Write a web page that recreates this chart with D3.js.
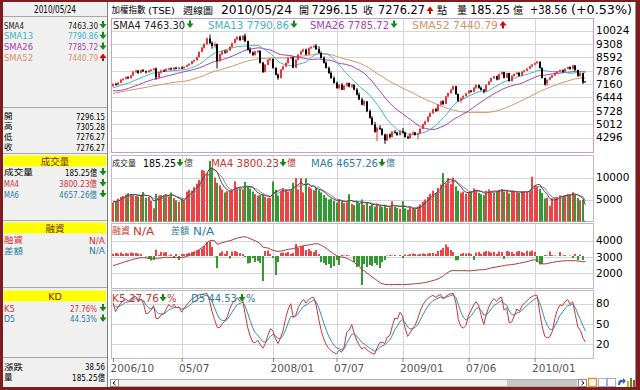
<!DOCTYPE html>
<html lang="zh-Hant">
<head>
<meta charset="UTF-8">
<title>加權指數(TSE) 週線圖</title>
<style>
    body { margin: 0; padding: 0; background: #fff; }
    svg { display: block; }
    text { font-family: "DejaVu Sans", "Noto Sans CJK TC", sans-serif; }
</style>
</head>
<body>
<div id="chart"></div>
<script src="https://d3js.org/d3.v7.min.js"></script>
<script>
// weekly bars, 2006/10/30 .. 2010/05/24
const opens = [
    7040,7150,7110,7230,7390,7440,7520,7470,7610,7823,
    7880,7760,7900,7840,7790,7880,7910,7980,7520,7780,
    7880,7840,7960,7990,7940,8030,7980,8040,8010,8080,
    8170,8240,8380,8440,8600,8880,9100,9300,9600,9350,
    9200,9300,8400,8760,8900,8850,8960,9150,9350,9560,
    9680,9520,9740,9450,9000,8850,8720,8900,8930,8300,
    7800,8190,8460,8500,8020,7660,7480,7930,8100,8280,
    8550,8590,8040,8460,8730,8910,9000,8740,9090,9150,
    9200,9030,8820,8560,8290,8020,7750,7480,7220,6950,
    7120,6860,7060,7200,7030,7100,6860,6590,6330,6060,
    6230,5700,5350,4990,4600,4820,4750,4450,4150,4460,
    4330,4600,4560,4430,4640,4560,4330,4260,4500,4560,
    4450,4520,4760,5000,5150,5400,5600,5800,5720,6050,
    6230,6100,6500,6680,6860,7040,6620,6260,6390,6520,
    6660,6800,6740,6960,7100,6960,6850,6770,7120,7300,
    7480,7570,7400,7700,7790,7500,7740,7320,7590,7700,
    7760,7600,7810,7880,7980,8110,8200,8280,8350,8020,
    7480,7200,7390,7520,7620,7750,7830,7900,7820,7980,
    8060,7980,8150,7900,7600,7740,7296.15
];
const highs = [
    7200,7230,7260,7420,7480,7560,7580,7640,7850,7920,
    7900,7930,7960,7880,7920,7960,8010,8050,7820,7930,
    7950,8000,8040,8050,8060,8080,8060,8110,8100,8200,
    8270,8400,8480,8620,8900,9150,9350,9650,9807,9450,
    9380,9320,8800,8950,8990,9000,9180,9380,9600,9720,
    9760,9780,9859,9480,9120,8900,8950,8980,8960,8350,
    8230,8480,8550,8530,8060,7720,7960,8150,8320,8580,
    8640,8620,8480,8760,8950,9050,9060,9120,9180,9250,
    9309,9180,8900,8640,8380,8100,7840,7570,7300,7160,
    7220,7100,7250,7240,7180,7150,6950,6700,6420,6300,
    6250,5800,5450,5130,4880,4960,4800,4500,4500,4520,
    4650,4700,4600,4700,4810,4620,4400,4550,4620,4600,
    4560,4800,5040,5200,5450,5650,5850,5880,6080,6260,
    6300,6520,6700,6880,7084,7060,6650,6420,6560,6700,
    6850,6850,7000,7150,7130,7030,6900,7150,7320,7500,
    7600,7620,7720,7830,7810,7760,7760,7620,7720,7800,
    7790,7850,7920,8020,8140,8230,8300,8395,8380,8060,
    7500,7420,7540,7650,7780,7860,7940,7940,8000,8090,
    8100,8190,8180,7920,7800,7760,7305.28
];
const lows = [
    7020,7080,7090,7200,7330,7400,7420,7450,7600,7740,
    7700,7730,7800,7720,7760,7840,7880,7390,7450,7720,
    7820,7810,7900,7900,7920,7940,7950,7960,7970,8060,
    8120,8200,8300,8400,8580,8850,9050,9250,9300,9050,
    9100,7987,8350,8700,8780,8800,8920,9100,9330,9500,
    9450,9500,9400,8950,8780,8650,8680,8800,8250,7750,
    7780,8150,8380,7980,7620,7384,7450,7900,8050,8240,
    8480,8000,8000,8420,8700,8850,8700,8720,9020,9080,
    8980,8800,8520,8250,7990,7700,7440,7180,6900,6850,
    6830,6820,7020,6980,6950,6820,6550,6300,6020,5980,
    5650,5300,4950,4550,4110,4700,4400,3955,4100,4250,
    4300,4500,4380,4400,4500,4280,4220,4240,4420,4400,
    4200,4500,4740,4950,5100,5380,5550,5650,5700,6000,
    6020,6080,6450,6620,6820,6580,6200,6150,6340,6480,
    6620,6700,6720,6900,6900,6800,6650,6740,7080,7260,
    7420,7350,7380,7650,7450,7470,7280,7300,7550,7650,
    7560,7570,7760,7840,7940,8050,8150,8220,7980,7450,
    7080,7060,7350,7480,7590,7700,7790,7760,7790,7940,
    7920,7950,7870,7540,7550,7160,7276.27
];
const closes = [
    7150,7110,7230,7390,7440,7520,7470,7610,7823,7880,
    7760,7900,7840,7790,7880,7910,7980,7520,7780,7880,
    7840,7960,7990,7940,8030,7980,8040,8010,8080,8170,
    8240,8380,8440,8600,8880,9100,9300,9600,9350,9200,
    9300,8400,8760,8900,8850,8960,9150,9350,9560,9680,
    9520,9740,9450,9000,8850,8720,8900,8930,8300,7800,
    8190,8460,8500,8020,7660,7480,7930,8100,8280,8550,
    8590,8040,8460,8730,8910,9000,8740,9090,9150,9200,
    9030,8820,8560,8290,8020,7750,7480,7220,6950,7120,
    6860,7060,7200,7030,7100,6860,6590,6330,6060,6230,
    5700,5350,4990,4600,4820,4750,4450,4150,4460,4330,
    4600,4560,4430,4640,4560,4330,4260,4500,4560,4450,
    4520,4760,5000,5150,5400,5600,5800,5720,6050,6230,
    6100,6500,6680,6860,7040,6620,6260,6390,6520,6660,
    6800,6740,6960,7100,6960,6850,6770,7120,7300,7480,
    7570,7400,7700,7790,7500,7740,7320,7590,7700,7760,
    7600,7810,7880,7980,8110,8200,8280,8350,8020,7480,
    7130,7390,7520,7620,7750,7830,7900,7820,7980,8060,
    7980,8150,7900,7600,7740,7237.71,7276.27
];
// 51 weekly closes before the first bar, needed for the moving averages
const priorCloses = [
    5850,5900,6000,6100,6200,6300,6400,6450,6550,6500,
    6600,6650,6550,6500,6450,6500,6550,6600,6550,6600,
    6650,6700,6900,7000,7100,7150,7300,7200,6900,6700,
    6600,6400,6350,6500,6700,6600,6300,6400,6550,6650,
    6700,6800,6850,6900,7000,7050,7000,7050,7100,7150,7050
];
// weekly turnover, 億
const volumes = [
    4300,4600,5200,5600,5800,6100,6400,6200,6000,5800,
    5700,5900,6700,5400,5600,4700,3000,6300,5900,6000,
    5800,6200,5700,6600,5300,4800,4500,5200,4800,6800,
    7200,7000,7800,8600,9400,11700,11500,11000,13800,12300,
    10000,8800,8200,7300,6600,6900,7000,7100,9100,7600,
    7400,7300,9000,8000,7500,6800,6200,5900,6000,6100,
    5600,5300,5400,9100,7200,5900,7000,7600,7300,6800,
    7200,8800,9900,7300,9800,6600,9800,7900,7500,7100,
    7600,7100,6600,6000,5400,5000,5200,4700,4300,5100,
    4600,4200,4400,6200,4000,3700,4600,4100,5000,3800,
    4400,3600,3900,3400,4100,3500,3300,3800,3100,3200,
    4600,3300,3100,2900,4600,3000,2700,3200,2900,2800,
    3400,3900,4500,5000,5600,6300,7000,6500,7600,8400,
    11000,8700,9900,8500,10000,8000,7000,6500,6800,6300,
    6600,6900,7500,7200,6500,6200,6000,7000,7300,6800,
    6600,6900,7200,7400,6800,7000,6400,7000,6800,6600,
    6500,6800,6900,6700,7000,10200,8200,8000,7400,6500,
    5200,5400,3600,5300,5500,5600,5900,5800,6000,6200,
    6100,6650,6100,5300,4800,4900,185.25
];
const priorVolumes = [4300, 4600, 4200, 4800, 4500];
// 融資餘額 (line) and weekly 差額 (bars), 億
const marginBalance = [
    2450,2500,2550,2600,2650,2700,2750,2800,2850,2880,
    2910,2940,2940,2930,2900,2880,2870,2920,2910,2930,
    2950,2970,2960,2960,2950,2960,2940,2960,2980,3020,
    3080,3150,3230,3350,3450,3560,3700,3850,3980,4010,
    3980,3780,3800,3870,3900,3960,3980,4040,4100,4150,
    4190,4220,4230,4180,4110,4050,3980,3900,3800,3600,
    3560,3540,3460,3400,3350,3330,3350,3380,3420,3460,
    3480,3500,3560,3600,3640,3680,3700,3720,3750,3780,
    3800,3790,3700,3620,3520,3400,3280,3160,3080,3000,
    2980,2970,2900,2830,2750,2650,2520,2400,2200,2120,
    2000,1880,1760,1650,1540,1420,1350,1300,1290,1280,
    1290,1300,1290,1290,1280,1290,1300,1310,1330,1340,
    1350,1370,1390,1420,1450,1490,1540,1580,1640,1720,
    1820,1950,2050,2120,2160,2150,2140,2140,2150,2140,
    2130,2140,2150,2170,2190,2200,2200,2230,2270,2320,
    2350,2370,2400,2430,2450,2490,2500,2520,2540,2570,
    2600,2630,2660,2700,2740,2790,2820,2750,2620,2560,
    2560,2580,2620,2650,2680,2700,2730,2740,2750,2760,
    2760,2750,2760,2740,2720,2700,2690
];
const marginDiff = [
    20,30,25,35,20,30,25,35,30,30,
    25,20,0,-5,-30,-45,-40,63,10,40,
    35,40,5,15,-10,20,-40,20,20,25,
    30,40,45,55,60,75,100,140,145,90,
    -5,-120,30,45,20,50,-25,45,50,40,
    30,20,-10,-75,-70,-20,-60,-50,-70,-250,
    50,55,20,-20,-190,-60,30,35,30,40,
    20,30,120,80,90,100,60,70,50,40,
    60,20,-60,-70,-90,-80,-120,-100,-40,-90,
    10,5,10,5,0,-60,-110,-100,-290,-80,
    -110,-90,-100,-70,-90,-120,-60,-40,5,10,
    5,10,0,10,-20,15,10,20,25,20,
    15,20,25,20,25,30,30,20,50,60,
    80,115,90,60,40,-45,-40,20,30,25,
    30,20,-40,35,40,20,40,50,45,35,
    40,20,45,40,-30,50,45,40,20,45,
    50,40,30,50,45,55,40,-60,-85,-80,
    10,5,45,10,5,0,40,5,10,0,
    5,-20,20,-40,15,-40,0
];
const kdStart = [81, 79];

const tickIndex = [0, 27, 63, 88, 114, 140, 166];
const tickLabels = ["2006/10", "05/07", "2008/01", "07/07", "2009/01", "07/06", "2010/01"];
const priceTicks = [10024, 9308, 8592, 7876, 7160, 6444, 5728, 5012, 4296];
const volumeTicks = [10000, 5000];
const marginTicks = [4000, 3000, 2000];
const kdTicks = [80, 50, 20];

const smaNames = ["SMA4", "SMA13", "SMA26", "SMA52"];
const smaValues = ["7463.30", "7790.86", "7785.72", "7440.79"];
const smaUp = [false, false, false, true];
const quoteNames = ["開", "高", "低", "收"];
const quoteValues = ["7296.15", "7305.28", "7276.27", "7276.27"];

// ---------------------------------------------------------------
const CJK = "'Noto Sans CJK TC', sans-serif";
const SERIF = "'Liberation Serif', 'Noto Sans CJK TC', serif";
const C = {
    frame: "#7d1d1d", panelBg: "#f0f0f0", grid: "#d6d6d6", border: "#bdbdbd", pricePanel: "#c99ad6",
    up: "#e83434", down: "#000", volUp: "#ec4444", volDown: "#339933",
    sma4: "#222", sma13: "#3fb6c4", sma26: "#a83fae", sma52: "#d39464",
    red: "#cc3333", blue: "#2c7d9e", yellow: "#ffff00", head: "#7a2a00"
};

const svg = d3.select("#chart").append("svg").attr("width", 640).attr("height", 390);

function txt(g, x, y, s, o = {}) {
    const t = g.append("text").attr("x", x).attr("y", y)
        .attr("dominant-baseline", "central")
        .attr("font-size", o.size || 11)
        .attr("fill", o.color || "#000")
        .text(s);
    if (o.anchor) t.attr("text-anchor", o.anchor);
    if (o.family) t.attr("font-family", o.family);
    if (o.width) t.attr("textLength", o.width).attr("lengthAdjust", "spacingAndGlyphs");
    return t;
}

function arrow(g, x, y, up) {
    const d = up
        ? `M${x - 1},${y + 4}v-3h-2.5l3.5,-4.5l3.5,4.5h-2.5v3z`
        : `M${x - 1},${y - 4}v3h-2.5l3.5,4.5l3.5,-4.5h-2.5v-3z`;
    g.append("path").attr("d", d).attr("fill", up ? "#e00000" : "#108a10");
}

// frame and backgrounds
svg.append("rect").attr("width", 640).attr("height", 390).attr("fill", C.frame);
svg.append("rect").attr("x", 3).attr("y", 2).attr("width", 105).attr("height", 385).attr("fill", C.panelBg);
svg.append("rect").attr("x", 108).attr("y", 2).attr("width", 528).attr("height", 385).attr("fill", "#fff");
svg.append("line").attr("x1", 107.5).attr("x2", 107.5).attr("y1", 2).attr("y2", 387).attr("stroke", "#808080");
svg.append("line").attr("x1", 635.5).attr("x2", 635.5).attr("y1", 2).attr("y2", 387).attr("stroke", "#909090");

// ---------------- left info panel ----------------
const lp = svg.append("g");
[16.5, 107.5, 153.5, 220.5, 287.5, 357.5].forEach(y => {
    lp.append("line").attr("x1", 3).attr("x2", 107).attr("y1", y).attr("y2", y).attr("stroke", "#a8a8a8");
});
txt(lp, 55, 9.5, "2010/05/24", { family: SERIF, size: 10, anchor: "middle", width: 42 });

const smaColors = [C.sma4, C.sma13, C.sma26, C.sma52];
smaNames.forEach((n, i) => {
    const y = 25 + i * 10.7;
    txt(lp, 4, y, n, { family: SERIF, size: 9.5, color: smaColors[i], width: i ? 29 : 20 });
    txt(lp, 98, y, smaValues[i], { family: SERIF, size: 9.5, color: smaColors[i], anchor: "end", width: 30 });
    arrow(lp, 103, y, smaUp[i]);
});
quoteNames.forEach((n, i) => {
    const y = 116 + i * 10.4;
    txt(lp, 4, y, n, { family: CJK, size: 8.5 });
    txt(lp, 105, y, quoteValues[i], { family: SERIF, size: 9.5, anchor: "end", width: 29 });
});

function yellowHead(y, label) {
    lp.append("rect").attr("x", 4).attr("y", y).attr("width", 102).attr("height", 11).attr("fill", C.yellow);
    txt(lp, 55, y + 5.5, label, { family: SERIF, size: 9.5, anchor: "middle", color: C.head });
}
yellowHead(155.5, "成交量");
txt(lp, 4, 172, "成交量", { family: CJK, size: 8.5, width: 29 });
txt(lp, 97, 172, "185.25億", { family: SERIF, size: 9.5, anchor: "end", width: 32 });
arrow(lp, 103, 172, false);
txt(lp, 4, 183, "MA4", { family: SERIF, size: 9.5, color: C.red, width: 15 });
txt(lp, 97, 183, "3800.23億", { family: SERIF, size: 9.5, anchor: "end", color: C.red, width: 38 });
arrow(lp, 103, 183, false);
txt(lp, 4, 194, "MA6", { family: SERIF, size: 9.5, color: C.blue, width: 15 });
txt(lp, 97, 194, "4657.26億", { family: SERIF, size: 9.5, anchor: "end", color: C.blue, width: 38 });
arrow(lp, 103, 194, false);

yellowHead(222.5, "融資");
txt(lp, 4, 240, "融資", { family: CJK, size: 8.5, color: C.red, width: 19 });
txt(lp, 105, 240, "N/A", { family: SERIF, size: 9.5, anchor: "end", color: C.red, width: 16 });
txt(lp, 4, 250.5, "差額", { family: CJK, size: 8.5, color: C.blue, width: 19 });
txt(lp, 105, 250.5, "N/A", { family: SERIF, size: 9.5, anchor: "end", color: C.blue, width: 16 });

yellowHead(290.5, "KD");
txt(lp, 4, 308, "K5", { family: SERIF, size: 9.5, color: C.red, width: 11 });
txt(lp, 97, 308, "27.76%", { family: SERIF, size: 9.5, anchor: "end", color: C.red, width: 27 });
arrow(lp, 103, 308, false);
txt(lp, 4, 318.5, "D5", { family: SERIF, size: 9.5, color: C.blue, width: 11 });
txt(lp, 97, 318.5, "44.53%", { family: SERIF, size: 9.5, anchor: "end", color: C.blue, width: 27 });
arrow(lp, 103, 318.5, false);

txt(lp, 4, 366.5, "漲跌", { family: CJK, size: 8.5, width: 19 });
txt(lp, 105, 366.5, "38.56", { family: SERIF, size: 9.5, anchor: "end", width: 20 });
txt(lp, 4, 377, "量", { family: CJK, size: 8.5 });
txt(lp, 105, 377, "185.25億", { family: SERIF, size: 9.5, anchor: "end", width: 33 });

// ---------------- title ----------------
txt(svg, 111.5, 10, "加權指數", { family: CJK, size: 8.6, width: 34 });
txt(svg, 148, 10.5, "(TSE)", { size: 8.5, width: 27 });
txt(svg, 183, 10, "週線圖", { family: CJK, size: 9.5, width: 30 });
txt(svg, 221, 10, "2010/05/24", { size: 12, width: 71 });
txt(svg, 299, 10, "開", { family: CJK, size: 10 });
txt(svg, 311.5, 10, "7296.15", { size: 12, width: 46.5 });
txt(svg, 363, 10, "收", { family: CJK, size: 10 });
txt(svg, 378, 10, "7276.27", { size: 12, width: 47 });
arrow(svg, 430, 10, true);
txt(svg, 437, 10, "點", { family: CJK, size: 10 });
txt(svg, 457, 10, "量", { family: CJK, size: 10 });
txt(svg, 470, 10, "185.25", { size: 12, width: 40 });
txt(svg, 513, 10, "億", { family: CJK, size: 10 });
txt(svg, 530, 10, "+38.56", { size: 12, width: 37 });
txt(svg, 571, 10, "(+0.53%)", { size: 12, width: 61 });

// ---------------- scales ----------------
const L = 111, R = 593;
const x = d3.scaleLinear().domain([0, closes.length - 1]).range([113, 585.4]);
const px = i => Math.round(x(i));
const yPrice = d3.scaleLinear().domain([4296, 10024]).range([137.5, 30.5]);
const yVol = d3.scaleLinear().domain([0, 10000]).range([221.5, 177.5]);
const yMargin = d3.scaleLinear().domain([2000, 4000]).range([273, 240.5]);
const yDiff = d3.scaleLinear().domain([-300, 150]).range([286, 241]);
const yKD = d3.scaleLinear().domain([0, 100]).range([358, 290]);

const panels = [
    { top: 18, bottom: 152, y: yPrice, ticks: priceTicks, stroke: C.pricePanel },
    { top: 155, bottom: 221, y: yVol, ticks: volumeTicks, stroke: C.border },
    { top: 223, bottom: 288, y: yMargin, ticks: marginTicks, stroke: C.border },
    { top: 290, bottom: 358, y: yKD, ticks: kdTicks, stroke: C.border }
];
panels.forEach(p => {
    const g = svg.append("g");
    g.append("rect").attr("x", L + 0.5).attr("y", p.top + 0.5)
        .attr("width", R - L).attr("height", p.bottom - p.top)
        .attr("fill", "#fff").attr("stroke", p.stroke);
    g.selectAll(".hg").data(p.ticks).join("line")
        .attr("x1", L + 1).attr("x2", R)
        .attr("y1", d => Math.round(p.y(d)) + 0.5).attr("y2", d => Math.round(p.y(d)) + 0.5)
        .attr("stroke", C.grid);
    g.selectAll(".vg").data(tickIndex.slice(1)).join("line")
        .attr("x1", d => px(d) + 0.5).attr("x2", d => px(d) + 0.5)
        .attr("y1", p.top + 1).attr("y2", p.bottom)
        .attr("stroke", C.grid);
    const ax = d3.axisRight(p.y).tickValues(p.ticks).tickSize(0).tickPadding(3).tickFormat(d3.format("d"));
    const a = svg.append("g").attr("transform", `translate(${R},0)`).call(ax);
    a.select(".domain").remove();
    a.selectAll("text").attr("font-size", 10.5).attr("fill", "#000").attr("font-family", "'DejaVu Sans', sans-serif");
});

// ---------------- indicators ----------------
function movingAvg(prior, vals, n) {
    const all = prior.concat(vals);
    return vals.map((v, i) => d3.mean(all.slice(i + prior.length - n + 1, i + prior.length + 1)));
}
const sma13 = movingAvg(priorCloses, closes, 13);
const sma26 = movingAvg(priorCloses, closes, 26);
const sma52 = movingAvg(priorCloses, closes, 52);
const volMa4 = movingAvg(priorVolumes, volumes, 4);
const volMa6 = movingAvg(priorVolumes, volumes, 6);

const kLine = [], dLine = [];
let k = kdStart[0], d = kdStart[1];
closes.forEach((c, i) => {
    if (i > 0) {
        const from = Math.max(0, i - 4);
        const hi = d3.max(highs.slice(from, i + 1)), lo = d3.min(lows.slice(from, i + 1));
        const rsv = hi > lo ? (c - lo) / (hi - lo) * 100 : 50;
        k = k * 2 / 3 + rsv / 3;
        d = d * 2 / 3 + k / 3;
    }
    kLine.push(k);
    dLine.push(d);
});

function drawLine(arr, y, color) {
    svg.append("path").datum(arr)
        .attr("fill", "none").attr("stroke", color).attr("stroke-width", 1)
        .attr("d", d3.line().x((v, i) => x(i)).y(v => y(v)));
}

// ---------------- price panel ----------------
const idx = d3.range(closes.length);
drawLine(sma52, yPrice, C.sma52);
drawLine(sma26, yPrice, C.sma26);
drawLine(sma13, yPrice, C.sma13);

const candles = svg.append("g");
candles.selectAll("line").data(idx).join("line")
    .attr("x1", i => px(i)).attr("x2", i => px(i))
    .attr("y1", i => yPrice(highs[i])).attr("y2", i => yPrice(lows[i]))
    .attr("stroke", i => closes[i] >= opens[i] ? C.up : C.down);
candles.selectAll("rect").data(idx).join("rect")
    .attr("x", i => px(i) - 1).attr("width", 2)
    .attr("y", i => yPrice(Math.max(opens[i], closes[i])))
    .attr("height", i => Math.max(1, Math.abs(yPrice(opens[i]) - yPrice(closes[i]))))
    .attr("fill", i => closes[i] >= opens[i] ? C.up : C.down);

txt(svg, 113, 24.5, "SMA4 7463.30", { size: 10.5, color: C.sma4, width: 72 });
arrow(svg, 190, 24.5, false);
txt(svg, 208, 24.5, "SMA13 7790.86", { size: 10.5, color: C.sma13, width: 81 });
arrow(svg, 294, 24.5, false);
txt(svg, 310, 24.5, "SMA26 7785.72", { size: 10.5, color: C.sma26, width: 79 });
arrow(svg, 394, 24.5, false);
txt(svg, 412, 24.5, "SMA52 7440.79", { size: 10.5, color: C.sma52, width: 86 });
arrow(svg, 503, 24.5, true);

// ---------------- volume panel ----------------
svg.append("g").selectAll("rect").data(idx).join("rect")
    .attr("x", i => px(i) - 1).attr("width", 2)
    .attr("y", i => yVol(volumes[i]))
    .attr("height", i => Math.max(0.5, yVol(0) - yVol(volumes[i])))
    .attr("fill", i => closes[i] >= opens[i] ? C.volUp : C.volDown);
drawLine(volMa6, yVol, "#6c8fa6");
drawLine(volMa4, yVol, "#6a3a3a");

txt(svg, 112, 163, "成交量", { family: CJK, size: 8, color: "#222", width: 24 });
txt(svg, 143, 163, "185.25", { size: 10.5, width: 33 });
arrow(svg, 180, 163, false);
txt(svg, 184, 163, "億", { family: CJK, size: 9, color: "#555" });
txt(svg, 211, 163, "MA4 3800.23", { size: 10.5, color: C.red, width: 68 });
arrow(svg, 283, 163, false);
txt(svg, 287, 163, "億", { family: CJK, size: 9, color: C.red });
txt(svg, 311, 163, "MA6 4657.26", { size: 10.5, color: C.blue, width: 67 });
arrow(svg, 382, 163, false);
txt(svg, 386, 163, "億", { family: CJK, size: 9, color: C.blue });

// ---------------- margin panel ----------------
svg.append("g").selectAll("rect").data(idx).join("rect")
    .attr("x", i => px(i) - 1).attr("width", 2)
    .attr("y", i => yDiff(Math.max(0, marginDiff[i])))
    .attr("height", i => Math.abs(yDiff(marginDiff[i]) - yDiff(0)))
    .attr("fill", i => marginDiff[i] >= 0 ? C.volUp : C.volDown);
drawLine(marginBalance, yMargin, "#a83a3a");

txt(svg, 112, 230.5, "融資", { family: CJK, size: 9, color: C.red, width: 18 });
txt(svg, 133, 230.5, "N/A", { size: 10.5, color: C.red, width: 21 });
txt(svg, 171, 230.5, "差額", { family: CJK, size: 9, color: C.blue, width: 18 });
txt(svg, 193, 230.5, "N/A", { size: 10.5, color: C.blue, width: 21 });

// ---------------- KD panel ----------------
drawLine(dLine, yKD, "#3a8ab4");
drawLine(kLine, yKD, "#c23a3a");
txt(svg, 112, 298, "K5 27.76", { size: 10.5, color: C.red, width: 47 });
arrow(svg, 163, 298, false);
txt(svg, 167, 298, "%", { size: 10, color: C.red });
txt(svg, 191, 298, "D5 44.53", { size: 10.5, color: C.blue, width: 46 });
arrow(svg, 242, 298, false);
txt(svg, 246, 298, "%", { size: 10, color: C.blue });

// ---------------- time axis ----------------
const xAxis = d3.axisBottom(x).tickValues(tickIndex).tickSize(4).tickPadding(3)
    .tickFormat((v, i) => tickLabels[i]);
const xa = svg.append("g").attr("transform", "translate(0,358)").call(xAxis);
xa.select(".domain").remove();
xa.selectAll(".tick line").attr("stroke", "#888");
xa.selectAll("text").attr("text-anchor", "start").attr("dx", -3)
    .attr("font-size", 10.5).attr("fill", "#555").attr("font-family", "'DejaVu Sans', sans-serif");

// ---------------- scrollbar and tool icons ----------------
const sb = svg.append("g");
sb.append("rect").attr("x", 110.5).attr("y", 379.5).attr("width", 476).attr("height", 7)
    .attr("fill", "#f2f2f2").attr("stroke", "#b0b0b0");
sb.append("rect").attr("x", 507).attr("y", 380).attr("width", 70).attr("height", 6).attr("fill", "#c8c8c8");
[110.5, 578.5].forEach((bx, i) => {
    sb.append("rect").attr("x", bx).attr("y", 379.5).attr("width", 8).attr("height", 7)
        .attr("fill", "#fff").attr("stroke", "#909090");
    const d = i ? `M${bx + 3},${381}l2.5,2l-2.5,2` : `M${bx + 5},${381}l-2.5,2l2.5,2`;
    sb.append("path").attr("d", d).attr("fill", "none").attr("stroke", "#000");
});
sb.append("rect").attr("x", 588.5).attr("y", 378.5).attr("width", 8).attr("height", 8)
    .attr("fill", "#fff").attr("stroke", "#f09020").attr("stroke-width", 1.5);
[598.5, 607.5].forEach(bx => {
    sb.append("rect").attr("x", bx).attr("y", 378.5).attr("width", 8).attr("height", 8)
        .attr("fill", "none").attr("stroke", "#3060d0").attr("stroke-dasharray", "1,1");
});
sb.append("path").attr("d", "M618,385 q0,-6 5,-5 l0,-2 l3,3 l-3,3 l0,-2 q-3,0 -3,3z").attr("fill", "#3060d0");
sb.append("rect").attr("x", 627).attr("y", 381).attr("width", 2).attr("height", 6).attr("fill", "#e0b000");
sb.append("rect").attr("x", 630).attr("y", 378).attr("width", 2).attr("height", 9).attr("fill", "#30a030");
sb.append("rect").attr("x", 633).attr("y", 380).attr("width", 2).attr("height", 7).attr("fill", "#e03030");
</script>
</body>
</html>
